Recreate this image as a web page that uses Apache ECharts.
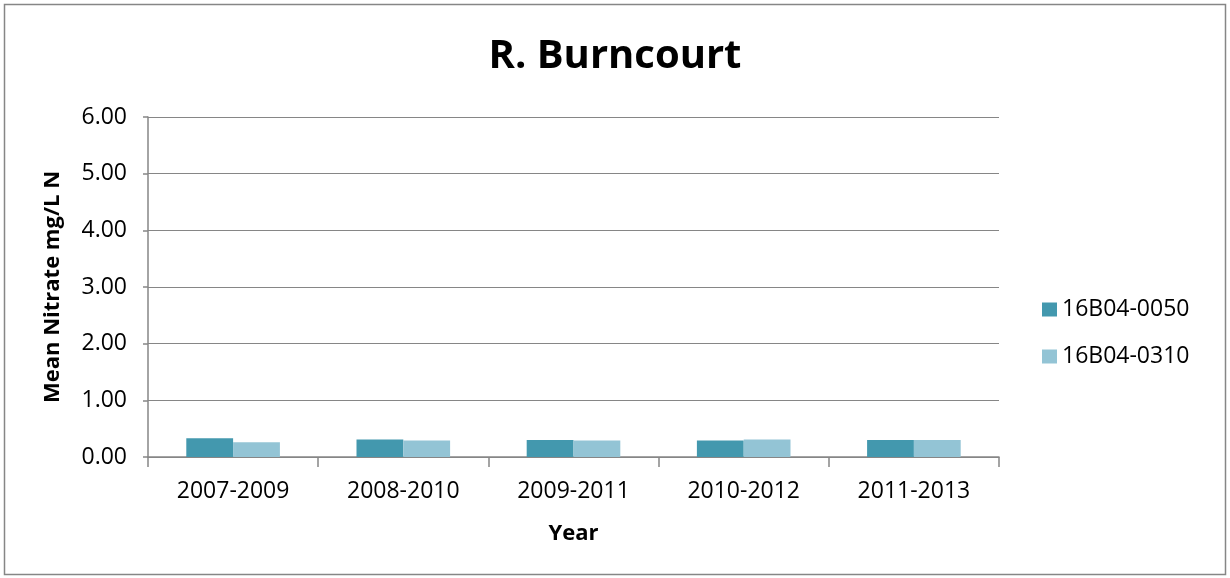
<!DOCTYPE html>
<html><head><meta charset="utf-8">
<script src="https://cdn.jsdelivr.net/npm/echarts@6/dist/echarts.min.js"></script>
<style>html,body{margin:0;padding:0;background:#fff}#c{width:1230px;height:578px}</style>
</head><body><div id="c"></div>
<script>
const categories = ['2007-2009','2008-2010','2009-2011','2010-2012','2011-2013'];
const seriesNames = ['16B04-0050','16B04-0310'];
const values0050 = [0.33,0.31,0.30,0.29,0.30];
const values0310 = [0.26,0.29,0.29,0.31,0.30];
const chart = echarts.init(document.getElementById('c'));
const font = '"Open Sans", sans-serif';
chart.setOption({
  animation:false,
  textStyle:{fontFamily:font},
  graphic:[{type:'rect',shape:{x:4.5,y:4.5,width:1221,height:570},style:{fill:'none',stroke:'#868686',lineWidth:1.5}}],
  title:{text:'R. Burncourt',left:'center',top:37,itemGap:0,padding:0,textStyle:{fontSize:40,fontWeight:'bold',color:'#000',fontFamily:font}},
  legend:{orient:'vertical',left:1042,top:298,itemGap:24,itemWidth:15,itemHeight:14,icon:'rect',padding:0,
    textStyle:{fontSize:23,color:'#000',fontFamily:font},data:seriesNames},
  grid:{left:148,right:231,top:117,bottom:121},
  xAxis:{type:'category',data:categories,name:'Year',nameLocation:'middle',nameGap:66,
    nameTextStyle:{fontSize:22,fontWeight:'bold',color:'#000',fontFamily:font},
    axisLine:{lineStyle:{color:'#868686',width:1.5}},
    axisTick:{show:true,length:10,lineStyle:{color:'#868686',width:1.5}},
    axisLabel:{fontSize:23,color:'#000',margin:23,fontFamily:font}},
  yAxis:{type:'value',min:0,max:6,interval:1,name:'Mean Nitrate mg/L N',nameLocation:'middle',nameGap:84,
    nameTextStyle:{fontSize:22,fontWeight:'bold',color:'#000',fontFamily:font},
    axisLine:{show:true,lineStyle:{color:'#868686',width:1.5}},
    axisTick:{show:true,length:5,lineStyle:{color:'#868686',width:1.5}},
    splitLine:{lineStyle:{color:'#868686',width:1.2}},
    axisLabel:{fontSize:23,color:'#000',margin:21,formatter:v=>v.toFixed(2),fontFamily:font}},
  series:[
    {name:seriesNames[0],type:'bar',data:values0050,barGap:'0%',barCategoryGap:'45%',itemStyle:{color:'#4398AE'}},
    {name:seriesNames[1],type:'bar',data:values0310,itemStyle:{color:'#93C4D5'}}
  ]
});
</script></body></html>
